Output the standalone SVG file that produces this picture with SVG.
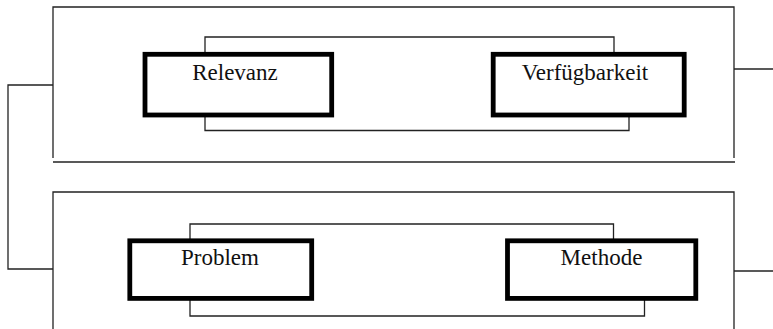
<svg xmlns="http://www.w3.org/2000/svg" width="773" height="329" viewBox="0 0 773 329">
<style>
.ln{fill:none;stroke:#222;stroke-width:1.3}
.bx{fill:#fff;stroke:#000;stroke-width:4.8}
.t{font-family:"Liberation Serif",serif;font-size:23px;fill:#111;text-anchor:middle}
</style>
<rect width="773" height="329" fill="#fff"/>
<g id="connectors">
<path class="ln" d="M53,158 V7 H734 V158"/>
<path class="ln" d="M53,162 H735"/>
<path class="ln" d="M53,329 V192 H734 V329"/>
<path class="ln" d="M53,85 H8 V269 H53"/>
<path class="ln" d="M734,69 H773"/>
<path class="ln" d="M734,271 H773"/>
<path class="ln" d="M205,54 V37 H614 V54"/>
<path class="ln" d="M205,115 V130.5 H629 V115"/>
<path class="ln" d="M190,241 V224 H613.5 V241"/>
<path class="ln" d="M190,298 V316 H644.5 V298"/>
</g>
<g id="relevanz">
<rect class="bx" x="145" y="54.3" width="186.7" height="60.7"/>
<text class="t" x="235" y="79.5">Relevanz</text>
</g>
<g id="verfuegbarkeit">
<rect class="bx" x="493.2" y="54.3" width="191" height="60.7"/>
<text class="t" x="585" y="79.5">Verfügbarkeit</text>
</g>
<g id="problem">
<rect class="bx" x="129.8" y="240.8" width="181.9" height="57.6"/>
<text class="t" x="220" y="264.5">Problem</text>
</g>
<g id="methode">
<rect class="bx" x="507.5" y="240.8" width="188.3" height="57.6"/>
<text class="t" x="601.5" y="264.5">Methode</text>
</g>
</svg>
